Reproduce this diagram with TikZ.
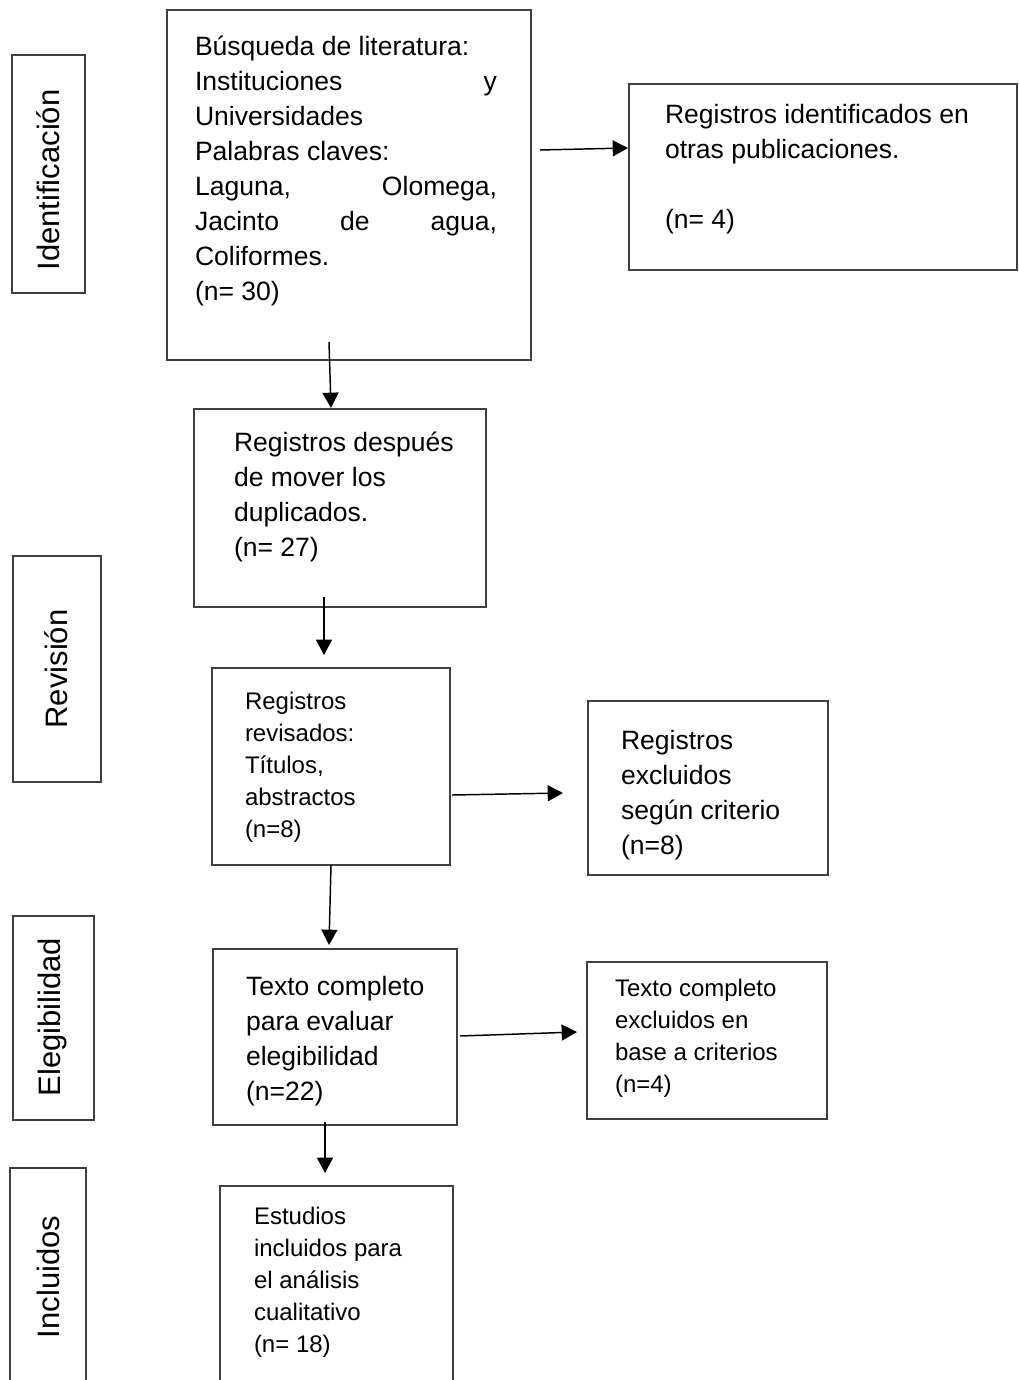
\documentclass[tikz,border=0pt]{standalone}
\usepackage{fontspec}
\setmainfont{Liberation Sans}
\usetikzlibrary{arrows.meta,fit,calc}
\newcommand{\bigtxt}{\fontsize{19.9pt}{26.25pt}\selectfont}
\newcommand{\smalltxt}{\fontsize{18pt}{24pt}\selectfont}
\newcommand{\sidetxt}{\fontsize{23.25pt}{28pt}\selectfont}
\newcommand{\jl}[1]{\makebox[\linewidth][s]{#1}}
\newcommand{\bigpar}[2]{\parbox[t]{#1}{\bigtxt\raggedright #2}}
\newcommand{\smallpar}[2]{\parbox[t]{#1}{\smalltxt\raggedright #2}}
\begin{document}
\begin{tikzpicture}[x=0.75pt,y=-0.75pt,
  box/.style={draw=black!75, line width=1pt, inner sep=0pt, outer sep=0pt},
  txt/.style={anchor=base west, inner sep=0pt, outer sep=0pt},
  sidelab/.style={rotate=90, inner sep=0pt, font=\sidetxt},
  arr/.style={draw=black, line width=1.1pt, -{Triangle[length=11.5pt,width=12pt]}}]
\useasboundingbox (0,0) rectangle (1018,1380);
\fill[white] (0,0) rectangle (1018,1380);
\clip (0,0) rectangle (1018,1380);

% side boxes
\node[box, fit={(12,55)(85,293)}] (ident) {};
\node[box, fit={(13,556)(101,782)}] (revi) {};
\node[box, fit={(13,916)(94,1120)}] (eleg) {};
\node[box, fit={(10,1168)(86,1400)}] (incl) {};
\node[sidelab] (identL) at (48,180) {Identificación};
\node[sidelab] (reviL) at (56,669) {Revisión};
\node[sidelab] (elegL) at (52,1017) {Elegibilidad};
\node[sidelab] (inclL) at (48,1277) {Incluidos};

% main boxes
\node[box, fit={(167,10)(531,360)}] (busq) {};
\node[box, fit={(629,84)(1017,270)}] (otras) {};
\node[box, fit={(194,409)(486,607)}] (dup) {};
\node[box, fit={(212,668)(450,865)}] (rev) {};
\node[box, fit={(588,701)(828,875)}] (excl) {};
\node[box, fit={(213,949)(457,1125)}] (texto) {};
\node[box, fit={(587,962)(827,1119)}] (excl2) {};
\node[box, fit={(220,1186)(453,1400)}] (estud) {};

% texts
\node[txt] (busqT) at (195,56) {\bigpar{226.5pt}{Búsqueda de literatura:\\
\jl{Instituciones y}\\
Universidades\\
Palabras claves:\\
\jl{Laguna, Olomega,}\\
\jl{Jacinto de agua,}\\
Coliformes.\\
(n= 30)}};
\node[txt] (otrasT) at (665,124) {\bigpar{300pt}{Registros identificados en\\
otras publicaciones.\\[26.25pt]
(n= 4)}};
\node[txt] (dupT) at (234,451) {\bigpar{220pt}{Registros después\\
de mover los\\
duplicados.\\
(n= 27)}};
\node[txt] (revT) at (245,709) {\smallpar{160pt}{Registros\\
revisados:\\
Títulos,\\
abstractos\\
(n=8)}};
\node[txt] (exclT) at (621,749) {\bigpar{170pt}{Registros\\
excluidos\\
según criterio\\
(n=8)}};
\node[txt] (textoT) at (246,995) {\bigpar{170pt}{Texto completo\\
para evaluar\\
elegibilidad\\
(n=22)}};
\node[txt] (excl2T) at (615,996) {\smallpar{170pt}{Texto completo\\
excluidos en\\
base a criterios\\
(n=4)}};
\node[txt] (estudT) at (254,1224) {\smallpar{160pt}{Estudios\\
incluidos para\\
el análisis\\
cualitativo\\
(n= 18)}};

% connectors
\draw[arr] ($(busq.north east)+(9,140)$) -- ($(otras.north west)+(-1,64)$);
\draw[arr] ($(busq.south west)+(162,-18)$) -- ($(dup.north west)+(137,-1)$);
\draw[arr, line width=0.8pt] ($(dup.south west)+(130,-10)$) -- ($(rev.north west)+(112,-13)$);
\draw[arr] ($(rev.north east)+(2,127)$) -- ($(excl.north west)+(-25,92)$);
\draw[arr] ($(rev.south west)+(119,0)$) -- ($(texto.north west)+(116,-4)$);
\draw[arr] ($(texto.north east)+(3,87)$) -- ($(excl2.north west)+(-10,70)$);
\draw[arr] ($(texto.south west)+(112,-3)$) -- ($(estud.north west)+(105,-13)$);
\end{tikzpicture}
\end{document}
